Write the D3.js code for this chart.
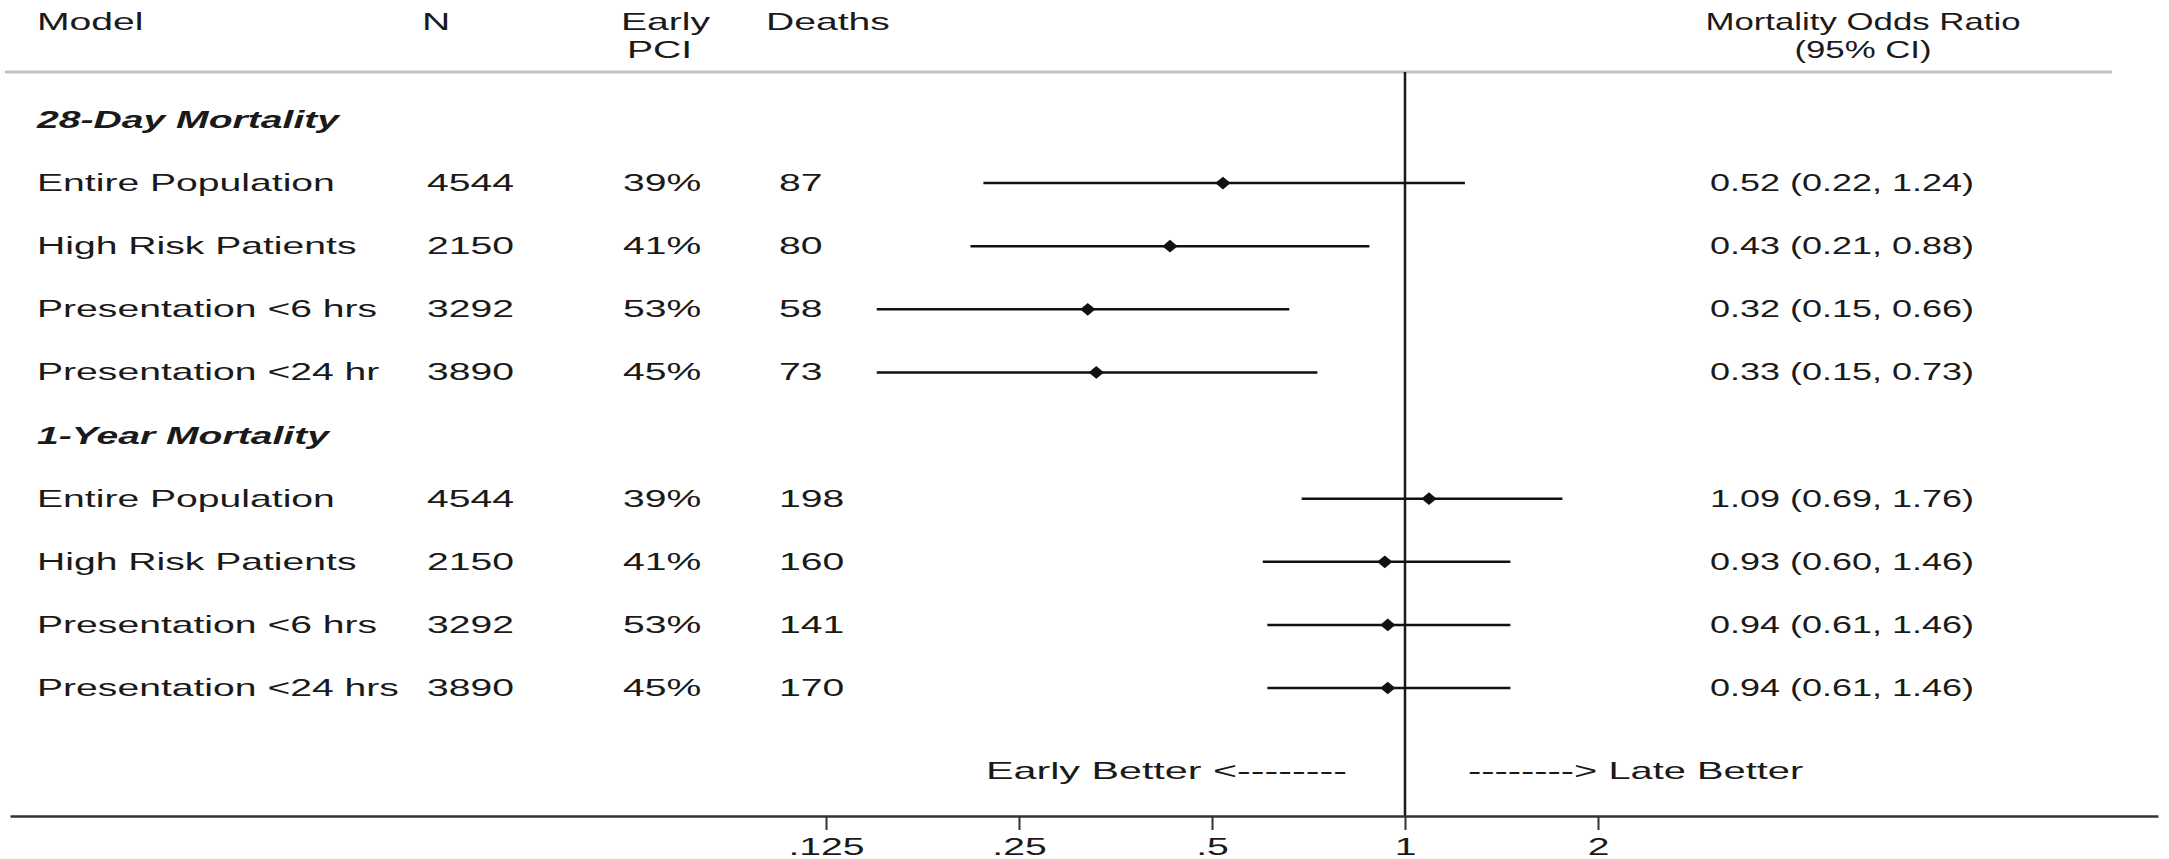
<!DOCTYPE html>
<html>
<head>
<meta charset="utf-8">
<script src="https://cdn.jsdelivr.net/npm/d3@7"></script>
<style>
  body { margin: 0; background: #fff; }
  text { font-family: "Liberation Sans", Arial, sans-serif; font-size: 24px; fill: #1a1a1a; }
</style>
</head>
<body>
<svg id="chart" width="2169" height="859"></svg>
<script>
const groups = ['28-Day Mortality', '1-Year Mortality'];
const groupOf = [0, 0, 0, 0, 1, 1, 1, 1];
const models = ['Entire Population', 'High Risk Patients', 'Presentation <6 hrs', 'Presentation <24 hr',
                'Entire Population', 'High Risk Patients', 'Presentation <6 hrs', 'Presentation <24 hrs'];
const nPatients = [4544, 2150, 3292, 3890, 4544, 2150, 3292, 3890];
const earlyPci = ['39%', '41%', '53%', '45%', '39%', '41%', '53%', '45%'];
const deaths = [87, 80, 58, 73, 198, 160, 141, 170];
const oddsRatio = [0.52, 0.43, 0.32, 0.33, 1.09, 0.93, 0.94, 0.94];
const ciLow = [0.22, 0.21, 0.15, 0.15, 0.69, 0.60, 0.61, 0.61];
const ciHigh = [1.24, 0.88, 0.66, 0.73, 1.76, 1.46, 1.46, 1.46];
const tickValues = [0.125, 0.25, 0.5, 1, 2];
const tickLabels = ['.125', '.25', '.5', '1', '2'];

// text in the picture is stretched sideways, a bit differently per column
const sxLeft = 1.63;
const sxRight = 1.5;
const sxNote = 1.72;
const axisY = 816;
const headerLineY = 72;

const svg = d3.select('#chart');

// one line per group header and per model row
var lines = [];
groups.forEach((g, gi) => {
    lines.push({ type: 'group', i: gi });
    groupOf.forEach((o, i) => { if (o === gi) lines.push({ type: 'row', i: i }); });
});

var y = d3.scalePoint()
    .domain(d3.range(lines.length))
    .range([120, 688]);

// log2 scale anchored on the tick positions, then widened to the axis line
var x = d3.scaleLog().base(2)
    .domain([0.125, 2])
    .range([826, 1598]);
x.domain([x.invert(10), x.invert(2158)]).range([10, 2158]);

function label(x0, y0, str, sx, anchor, style) {
    var t = svg.append('text')
        .attr('transform', 'translate(' + x0 + ',' + y0 + ') scale(' + sx + ',1)')
        .attr('text-anchor', anchor || 'start')
        .text(str);
    if (style) t.attr('style', style);
    return t;
}

// header
label(37, 30, 'Model', sxLeft);
label(422, 30, 'N', sxLeft);
label(621, 30, 'Early', sxLeft);
label(627, 58, 'PCI', sxLeft);
label(766, 30, 'Deaths', sxLeft);
label(1863, 30, 'Mortality Odds Ratio', 1.45, 'middle');
label(1863, 58, '(95% CI)', 1.45, 'middle');

svg.append('line')
    .attr('x1', 5).attr('x2', 2112)
    .attr('y1', headerLineY).attr('y2', headerLineY)
    .attr('stroke', '#c4c4c4')
    .attr('stroke-width', 3);

// rows
lines.forEach((l, k) => {
    var yy = y(k) + 8;
    if (l.type === 'group') {
        label(37, yy, groups[l.i], sxLeft, 'start', 'font-weight:bold;font-style:italic');
        return;
    }
    var i = l.i;
    label(37, yy, models[i], sxLeft);
    label(427, yy, nPatients[i], sxLeft);
    label(623, yy, earlyPci[i], sxLeft);
    label(779, yy, deaths[i], sxLeft);
    label(1710, yy, oddsRatio[i].toFixed(2) + ' (' + ciLow[i].toFixed(2) + ', ' + ciHigh[i].toFixed(2) + ')', sxRight);
});

// null line
svg.append('line')
    .attr('x1', x(1)).attr('x2', x(1))
    .attr('y1', headerLineY).attr('y2', axisY)
    .attr('stroke', '#1a1a1a')
    .attr('stroke-width', 2.5);

var rowLines = lines.map((l, k) => ({ l: l, k: k })).filter(d => d.l.type === 'row');

svg.selectAll('line.ci').data(rowLines)
    .enter().append('line')
    .attr('class', 'ci')
    .attr('x1', d => x(ciLow[d.l.i]))
    .attr('x2', d => x(ciHigh[d.l.i]))
    .attr('y1', d => y(d.k))
    .attr('y2', d => y(d.k))
    .attr('stroke', '#111')
    .attr('stroke-width', 2.5);

var diamond = d3.symbol().type(d3.symbolSquare).size(81);
svg.selectAll('path.pt').data(rowLines)
    .enter().append('path')
    .attr('class', 'pt')
    .attr('d', diamond)
    .attr('transform', d => 'translate(' + x(oddsRatio[d.l.i]) + ',' + y(d.k) + ') scale(1.2,1) rotate(45)')
    .attr('fill', '#111');

// direction labels
label(1347, 779, 'Early Better  <--------', sxNote, 'end');
label(1468, 779, '--------> Late Better', 1.66);

// axis
var axis = svg.append('g')
    .attr('transform', 'translate(0,' + axisY + ')')
    .call(d3.axisBottom(x)
        .tickValues(tickValues)
        .tickFormat((d, i) => tickLabels[i])
        .tickSize(14)
        .tickSizeOuter(0));

axis.select('.domain').attr('stroke', '#333').attr('stroke-width', 2.5);
axis.selectAll('.tick line').attr('stroke', '#333').attr('stroke-width', 2);
axis.selectAll('.tick text')
    .attr('y', 39)
    .attr('dy', null)
    .attr('transform', 'scale(' + sxLeft + ',1)')
    .attr('font-size', null)
    .attr('font-family', null)
    .attr('fill', '#1a1a1a');
</script>
</body>
</html>
